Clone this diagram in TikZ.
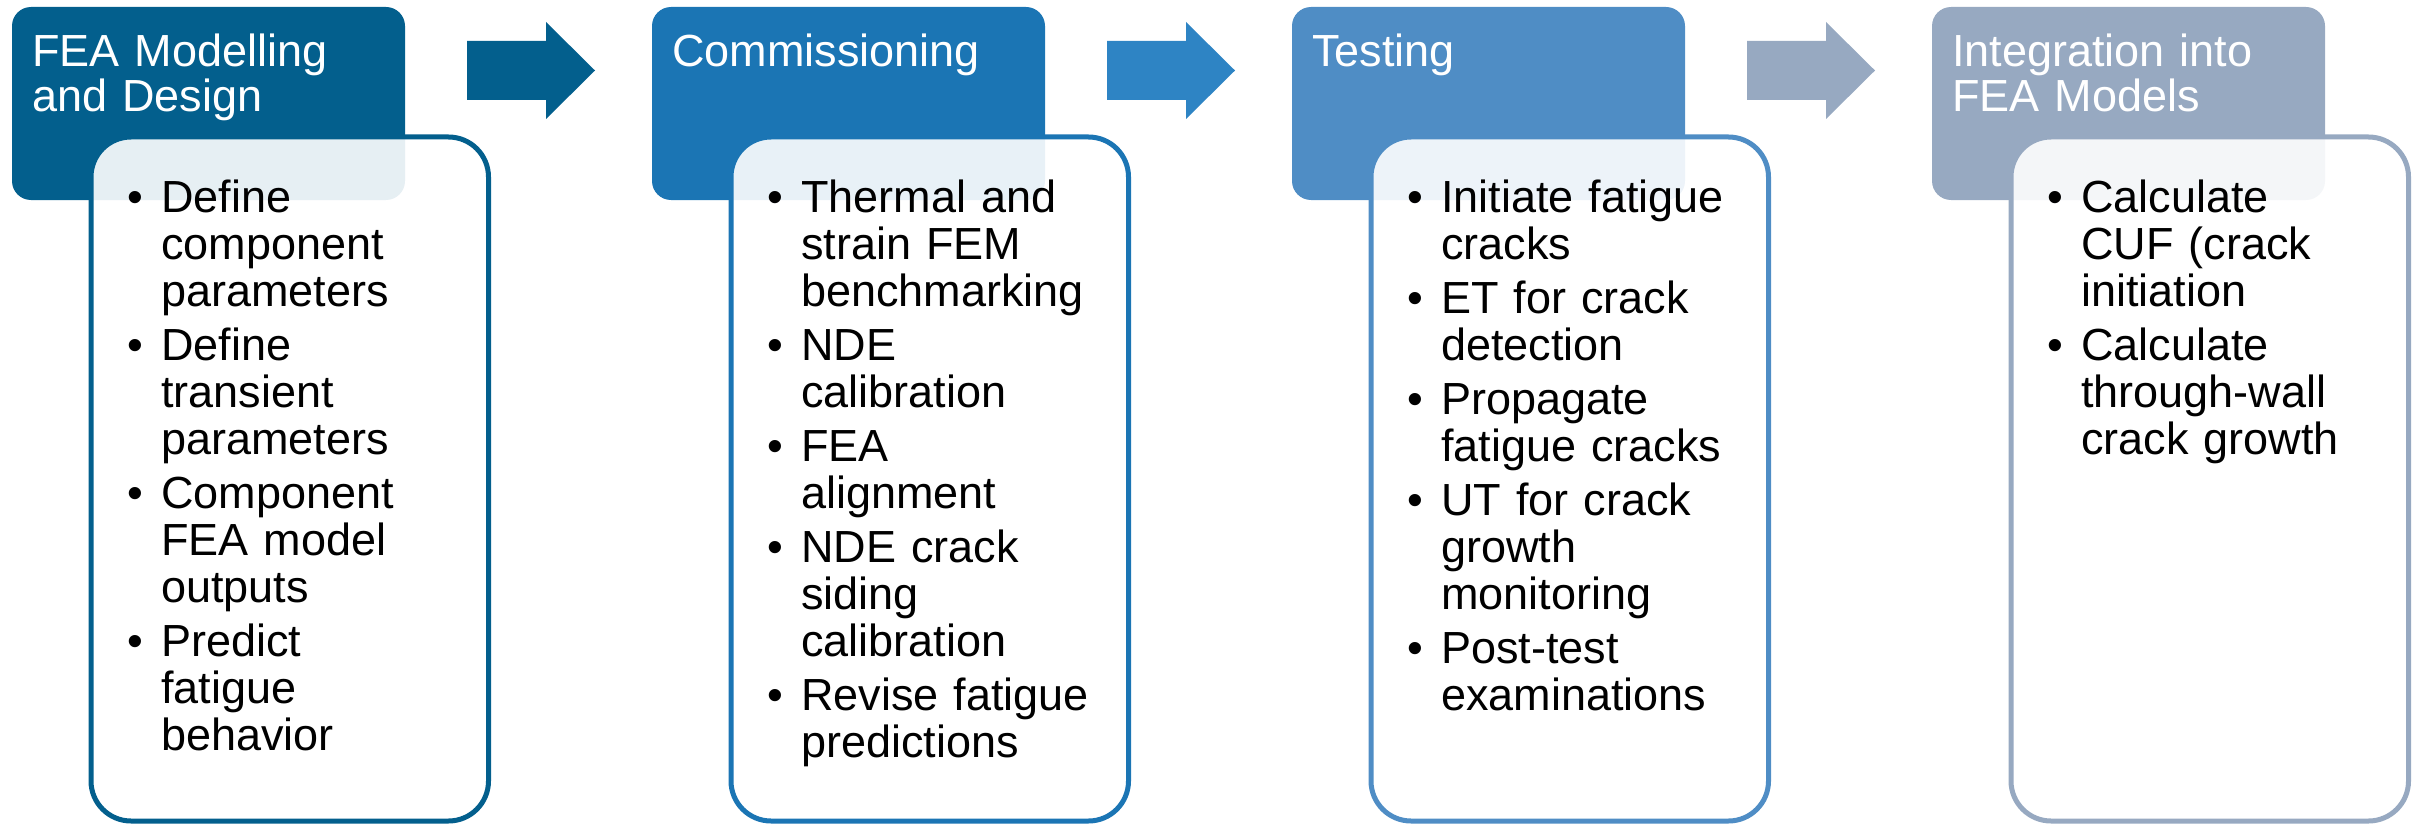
\documentclass[tikz,border=0pt]{standalone}
\usepackage{fontspec}
\setmainfont{Liberation Sans}
\definecolor{cA}{HTML}{035F8D}
\definecolor{cB}{HTML}{1B75B4}
\definecolor{cBarrow}{HTML}{2E84C4}
\definecolor{cC}{HTML}{4F8DC5}
\definecolor{cD}{HTML}{97A9C1}
\newcommand{\bitem}[1]{\noindent\makebox[34pt][l]{•}\parbox[t]{310pt}{\raggedright #1\strut}\par\prevdepth=\dp\strutbox}
\newcommand{\bsep}{\vspace{7pt}}
\begin{document}
\begin{tikzpicture}[x=1pt,y=-1pt,
  hdr/.style={draw=none, rounded corners=19pt, minimum width=393pt, minimum height=193pt, inner sep=0pt},
  bodybox/.style={rounded corners=40pt, line width=5pt, fill=white, fill opacity=0.9, minimum width=397.5pt, minimum height=684pt, inner sep=0pt},
  htext/.style={anchor=base west, inner sep=0pt, text=white, align=left, text width=380pt, font=\fontsize{45}{45}\selectfont},
  btext/.style={anchor=base west, inner sep=0pt, text=black, align=left, text width=350pt, font=\fontsize{45}{47}\selectfont}]
\useasboundingbox (0,0) rectangle (2420,824);

% arrows
\foreach \i/\c in {0/cA,1/cBarrow,2/cD}{
  \begin{scope}[shift={(640*\i,0)}]
    \fill[\c] (467,41) -- (546,41) -- (546,22) -- (595,70.5) -- (546,119) -- (546,100) -- (467,100) -- cycle;
  \end{scope}
}

% headers
\node[hdr, fill=cA] (h1) at (208.5,103.5) {};
\node[hdr, fill=cB] (h2) at (848.5,103.5) {};
\node[hdr, fill=cC] (h3) at (1488.5,103.5) {};
\node[hdr, fill=cD] (h4) at (2128.5,103.5) {};

% bodies
\node[bodybox, draw=cA] (b1) at (289.75,479) {};
\node[bodybox, draw=cB] (b2) at (929.75,479) {};
\node[bodybox, draw=cC] (b3) at (1569.75,479) {};
\node[bodybox, draw=cD] (b4) at (2209.75,479) {};

% header texts
\node[htext] (h1t) at (32,67) {FEA Modelling\\and Design};
\node[htext] (h2t) at (672,67) {Commissioning};
\node[htext] (h3t) at (1312,67) {Testing};
\node[htext] (h4t) at (1952,67) {Integration into\\FEA Models};

% body texts
\node[btext] (b1t) at (127,212) {\bitem{Define\\component\\parameters}\bsep
\bitem{Define\\transient\\parameters}\bsep
\bitem{Component\\FEA model\\outputs}\bsep
\bitem{Predict\\fatigue\\behavior}};

\node[btext] (b2t) at (767,212) {\bitem{Thermal and\\strain FEM\\benchmarking}\bsep
\bitem{NDE\\calibration}\bsep
\bitem{FEA\\alignment}\bsep
\bitem{NDE crack\\siding\\calibration}\bsep
\bitem{Revise fatigue\\predictions}};

\node[btext] (b3t) at (1407,212) {\bitem{Initiate fatigue\\cracks}\bsep
\bitem{ET for crack\\detection}\bsep
\bitem{Propagate\\fatigue cracks}\bsep
\bitem{UT for crack\\growth\\monitoring}\bsep
\bitem{Post-test\\examinations}};

\node[btext] (b4t) at (2047,212) {\bitem{Calculate\\CUF (crack\\initiation}\bsep
\bitem{Calculate\\through-wall\\crack growth}};
\end{tikzpicture}
\end{document}
